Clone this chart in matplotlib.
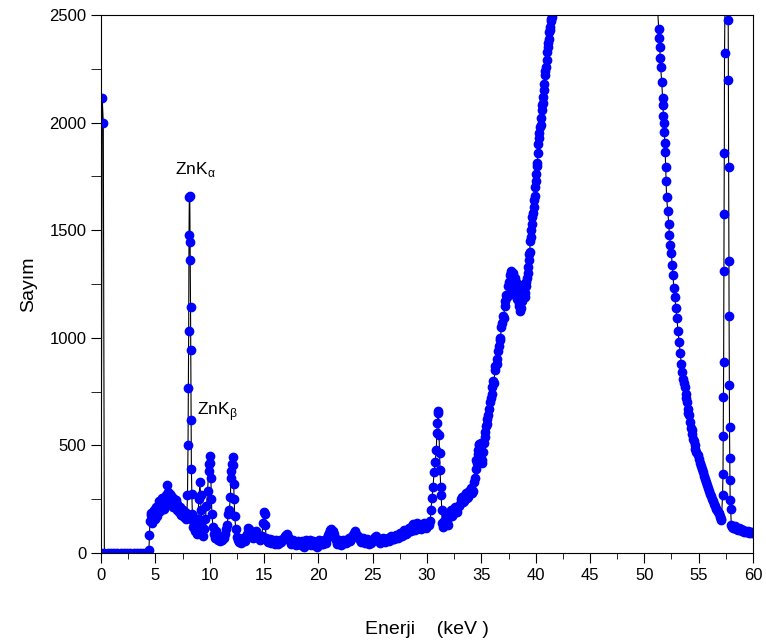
import matplotlib
matplotlib.use('Agg')
from matplotlib import pyplot as plt
from matplotlib.ticker import MultipleLocator

plt.rcParams['font.family'] = ['Liberation Sans', 'DejaVu Sans']

# spectrum, split in pieces (energy keV, counts)
start_e = [0.0, 0.1, 0.2, 0.3, 0.6, 0.9, 1.2, 1.5, 1.8, 2.1, 2.4, 2.7, 3.0, 3.3, 3.6, 3.9, 4.2]
start_c = [0, 2115, 2000, 0, 0, 0, 0, 0, 0, 0, 0, 0, 0, 0, 0, 0, 0]

hump_e = [4.4, 4.45, 4.5, 4.55, 4.6, 4.65, 4.7, 4.75, 4.8, 4.85, 4.9, 4.95, 5.0, 5.05, 5.1, 5.15,
          5.2, 5.25, 5.3, 5.35, 5.4, 5.45, 5.5, 5.55, 5.6, 5.65, 5.7, 5.75, 5.8, 5.85, 5.9, 5.95,
          6.0, 6.05, 6.1, 6.15, 6.2, 6.25, 6.3, 6.35, 6.4, 6.45, 6.5, 6.55, 6.6, 6.65, 6.7, 6.75,
          6.8, 6.85, 6.9, 6.95, 7.0, 7.05, 7.1, 7.15, 7.2, 7.25, 7.3, 7.35, 7.4, 7.45, 7.5, 7.55,
          7.6, 7.65, 7.7, 7.75, 7.8, 7.85, 7.9]
hump_c = [15, 84, 150, 175, 185, 140, 160, 180, 190, 200, 175, 160, 200, 215, 185, 170,
          215, 190, 200, 240, 225, 195, 210, 220, 235, 255, 220, 205, 250, 235, 230, 250,
          270, 240, 315, 285, 255, 230, 240, 275, 265, 225, 245, 260, 230, 215, 250, 235,
          225, 245, 215, 200, 230, 215, 205, 190, 200, 215, 190, 175, 200, 185, 180, 200,
          175, 165, 190, 170, 160, 185, 180]

zn_e = [7.95, 8.0, 8.03, 8.06, 8.09, 8.12, 8.16, 8.19, 8.21, 8.23, 8.25, 8.28, 8.31, 8.35, 8.4,
        8.45, 8.5, 8.6, 8.7, 8.8, 8.9, 9.0, 9.1, 9.15, 9.2, 9.3, 9.4, 9.5, 9.6, 9.7, 9.8, 9.9,
        9.95, 10.0, 10.05, 10.1, 10.15, 10.2, 10.3, 10.4, 10.5, 10.6, 10.7, 10.8, 10.9, 11.0,
        11.1, 11.2, 11.3, 11.4, 11.5, 11.6, 11.7, 11.8, 11.9, 11.95, 12.0, 12.05, 12.1, 12.15,
        12.2, 12.25, 12.3, 12.4]
zn_c = [270, 500, 766, 1030, 1480, 1653, 1660, 1446, 1362, 1143, 944, 618, 390, 275, 180,
        120, 150, 100, 130, 90, 160, 250, 330, 270, 200, 120, 80, 110, 160, 220, 290, 380,
        415, 450, 420, 350, 250, 180, 120, 90, 70, 100, 75, 60, 55, 70,
        60, 75, 70, 90, 110, 130, 180, 200, 260, 350, 380, 415, 445, 410,
        320, 250, 170, 110]

base_e = [12.5, 12.6, 12.7, 12.8, 12.9, 13.0, 13.1, 13.2, 13.3, 13.4, 13.5, 13.6, 13.7, 13.8,
          13.9, 14.0, 14.1, 14.2, 14.3, 14.4, 14.5, 14.6, 14.7, 14.8, 14.9, 15.0, 15.05, 15.1,
          15.2, 15.3, 15.4, 15.5, 15.6, 15.7, 15.8, 15.9, 16.0, 16.1, 16.2, 16.3, 16.4, 16.5,
          16.6, 16.7, 16.8, 16.9, 17.0, 17.1, 17.2, 17.3, 17.4, 17.5, 17.6, 17.7, 17.8, 17.9,
          18.0, 18.1, 18.2, 18.3, 18.4, 18.5, 18.6, 18.7, 18.8, 18.9, 19.0, 19.1, 19.2, 19.3,
          19.4, 19.5, 19.6, 19.7, 19.8, 19.9, 20.0, 20.1, 20.2, 20.3, 20.4, 20.5, 20.6, 20.7,
          20.8, 20.9, 21.0, 21.1, 21.2, 21.3, 21.4, 21.5, 21.6, 21.7, 21.8, 21.9, 22.0, 22.1,
          22.2, 22.3, 22.4, 22.5, 22.6, 22.7, 22.8, 22.9, 23.0, 23.1, 23.2, 23.3, 23.4, 23.5,
          23.6, 23.7, 23.8, 23.9, 24.0, 24.1, 24.2, 24.3, 24.4, 24.5, 24.6, 24.7, 24.8, 24.9,
          25.0, 25.1, 25.2, 25.3, 25.4, 25.5, 25.6, 25.7, 25.8, 25.9, 26.0, 26.1, 26.2, 26.3,
          26.4, 26.5, 26.6, 26.7, 26.8, 26.9, 27.0, 27.1, 27.2, 27.3, 27.4, 27.5, 27.6, 27.7,
          27.8, 27.9, 28.0, 28.1, 28.2, 28.3, 28.4, 28.5, 28.6, 28.7, 28.8, 28.9, 29.0, 29.1,
          29.2, 29.3, 29.4, 29.5, 29.6, 29.7, 29.8, 29.9, 30.0, 30.1, 30.2, 30.3]
base_c = [75, 60, 50, 65, 45, 60, 70, 55, 75, 90, 115, 110, 95, 85,
          75, 70, 80, 95, 100, 85, 70, 60, 65, 80, 140, 190, 180, 130,
          70, 60, 50, 65, 45, 55, 60, 45, 40, 60, 55, 40, 45, 60,
          50, 65, 70, 80, 85, 90, 75, 65, 55, 40, 45, 60, 50, 35,
          40, 55, 50, 40, 35, 55, 45, 30, 55, 60, 40, 50, 60, 35,
          45, 55, 35, 40, 50, 30, 45, 60, 55, 40, 40, 60, 55, 45,
          70, 85, 95, 105, 110, 100, 90, 70, 60, 40, 45, 60, 55, 35,
          40, 60, 55, 45, 50, 65, 70, 55, 65, 80, 85, 95, 100, 90,
          80, 70, 60, 50, 65, 70, 55, 45, 50, 65, 60, 40, 45, 55,
          60, 70, 75, 80, 70, 60, 55, 45, 60, 70, 65, 50, 55, 65,
          70, 55, 60, 80, 75, 65, 65, 85, 80, 70, 75, 95, 90, 80,
          85, 105, 100, 90, 95, 115, 110, 100, 125, 135, 115, 105, 135, 140,
          125, 115, 110, 125, 120, 140, 130, 115, 125, 140, 130, 150]

pb_e = [30.35, 30.45, 30.55, 30.65, 30.75, 30.85, 30.9, 30.95, 31.0, 31.05, 31.1, 31.15,
        31.2, 31.25, 31.3, 31.35]
pb_c = [200, 254, 305, 378, 424, 479, 556, 602, 649, 660, 548, 463,
        386, 308, 270, 200]

rise_e = [31.4, 31.5, 31.6, 31.7, 31.8, 31.9, 32.0, 32.1, 32.2, 32.3, 32.4, 32.5, 32.6, 32.7,
          32.8, 32.9, 33.0, 33.1, 33.2, 33.3, 33.4, 33.5, 33.6, 33.7, 33.8, 33.9, 34.0, 34.1,
          34.2, 34.3, 34.4, 34.5, 34.55, 34.6, 34.65, 34.7, 34.75, 34.8, 34.85, 34.9, 34.95,
          35.0, 35.05, 35.1, 35.15, 35.2, 35.3, 35.35, 35.4, 35.5, 35.55, 35.65, 35.7, 35.8,
          35.85, 35.95, 36.0, 36.1, 36.15, 36.25, 36.3, 36.4, 36.45, 36.55, 36.6, 36.7, 36.75,
          36.85, 36.9, 37.0, 37.05, 37.15, 37.2, 37.3, 37.35, 37.45, 37.5, 37.6, 37.65, 37.7,
          37.75, 37.8, 37.85, 37.9, 37.95, 38.0, 38.05, 38.1, 38.15, 38.2, 38.25, 38.3, 38.35,
          38.4, 38.45, 38.5, 38.55, 38.6, 38.65, 38.7, 38.75, 38.8, 38.85, 38.9, 38.95, 39.0,
          39.05, 39.1, 39.15, 39.2, 39.25, 39.3, 39.35, 39.4, 39.45, 39.5, 39.55, 39.6, 39.65,
          39.7, 39.75, 39.8, 39.85, 39.9, 39.95, 40.0, 40.05, 40.1, 40.15, 40.2, 40.25, 40.3,
          40.35, 40.4, 40.45, 40.5, 40.55, 40.6, 40.65, 40.7, 40.75, 40.8, 40.85, 40.9, 40.95,
          41.0, 41.05, 41.1, 41.15, 41.2, 41.25, 41.3, 41.35, 41.4, 41.45, 41.5]
rise_c = [138, 120, 150, 175, 140, 130, 165, 185, 200, 170, 180, 205, 215, 195,
          190, 220, 230, 250, 260, 235, 240, 270, 280, 255, 260, 290, 300, 280,
          290, 330, 350, 390, 430, 420, 480, 460, 505, 500, 440, 450, 510,
          480, 430, 420, 470, 510, 540, 560, 590, 600, 625, 640, 670, 700,
          720, 740, 770, 800, 790, 850, 870, 880, 900, 940, 960, 990, 1000,
          1050, 1070, 1100, 1090, 1150, 1170, 1200, 1190, 1240, 1260, 1290, 1250, 1310,
          1300, 1270, 1220, 1300, 1260, 1230, 1280, 1200, 1240, 1260, 1210, 1180, 1230,
          1220, 1160, 1150, 1190, 1125, 1140, 1170, 1200, 1210, 1230, 1250, 1220, 1190,
          1210, 1240, 1260, 1280, 1300, 1330, 1360, 1390, 1400, 1450, 1470, 1500, 1530,
          1560, 1580, 1610, 1640, 1660, 1700, 1730, 1760, 1800, 1810, 1860, 1900, 1930,
          1950, 1980, 1990, 2020, 2060, 2080, 2090, 2120, 2150, 2180, 2220, 2240, 2260,
          2290, 2330, 2350, 2370, 2390, 2420, 2430, 2445, 2470, 2480, 2490]

# main peak top is off the chart in the reference
top_e = [41.7, 42.5, 46.5, 50.5, 51.2]
top_c = [2600, 3500, 6000, 3500, 2550]

fall_e = [51.32, 51.38, 51.42, 51.47, 51.5, 51.6, 51.68, 51.72, 51.75, 51.8, 51.85, 51.88,
          51.92, 51.96, 52.0, 52.05, 52.15, 52.25, 52.3, 52.4, 52.5, 52.55, 52.65, 52.7,
          52.8, 52.9, 53.0, 53.1, 53.2, 53.3, 53.4, 53.5, 53.6, 53.65, 53.7, 53.8, 53.85,
          53.9, 54.0, 54.05, 54.1, 54.2, 54.3, 54.35, 54.4, 54.5, 54.55, 54.65, 54.7, 54.8,
          54.9, 55.0, 55.1, 55.2, 55.3, 55.4, 55.5, 55.6, 55.7, 55.8, 55.85, 55.95, 56.0,
          56.1, 56.2, 56.3, 56.4, 56.5, 56.6, 56.7, 56.8, 56.85, 56.95, 57.0, 57.05, 57.1]
fall_c = [2436, 2395, 2352, 2301, 2258, 2187, 2116, 2083, 2032, 1998, 1956, 1906,
          1864, 1796, 1729, 1653, 1590, 1530, 1480, 1430, 1392, 1340, 1290, 1230,
          1190, 1140, 1090, 1030, 980, 930, 880, 840, 810, 790, 770, 740, 720,
          700, 670, 650, 640, 610, 580, 570, 555, 530, 520, 500, 485, 470,
          455, 435, 420, 405, 390, 375, 360, 345, 330, 315, 300, 290, 275,
          265, 250, 240, 230, 220, 205, 200, 190, 185, 170, 165, 160, 155]

end_e = [57.2, 57.24, 57.26, 57.28, 57.3, 57.32, 57.34, 57.36, 57.38, 57.55, 57.72, 57.74,
         57.76, 57.78, 57.8, 57.82, 57.84, 57.86, 57.88, 57.9, 57.95, 58.0, 58.1, 58.2, 58.3,
         58.4, 58.5, 58.6, 58.7, 58.8, 58.9, 59.0, 59.1, 59.2, 59.3, 59.4, 59.5, 59.6, 59.7,
         59.8, 59.9, 60.0]
end_c = [270, 365, 542, 727, 887, 1311, 1577, 1860, 2323, 3200, 2475, 2200,
         1796, 1359, 1103, 781, 584, 441, 340, 247, 205, 130, 120, 115, 125,
         110, 118, 108, 115, 105, 112, 100, 108, 98, 104, 96, 100, 94, 98,
         92, 96, 95]

energy = start_e + hump_e + zn_e + base_e + pb_e + rise_e + top_e + fall_e + end_e
counts = start_c + hump_c + zn_c + base_c + pb_c + rise_c + top_c + fall_c + end_c

labels = ['ZnK$_{\\mathregular{α}}$', 'ZnK$_{\\mathregular{β}}$']
label_x = [6.8, 8.8]
label_y = [1760, 640]

fig = plt.figure(figsize=(7.66, 6.44), dpi=100)
ax = fig.add_axes([0.132, 0.1413, 0.851, 0.8354])

ax.plot(energy, counts, '-', color='black', lw=0.8, marker='o', ms=6,
        mfc='#0000ff', mec='#0000ff')

for txt, lx, ly in zip(labels, label_x, label_y):
    ax.text(lx, ly, txt, fontsize=12.5)

ax.set_xlim(0, 60)
ax.set_ylim(0, 2500)
ax.xaxis.set_major_locator(MultipleLocator(5))
ax.xaxis.set_minor_locator(MultipleLocator(2.5))
ax.yaxis.set_major_locator(MultipleLocator(500))
ax.yaxis.set_minor_locator(MultipleLocator(250))
ax.tick_params(which='major', direction='out', length=7, labelsize=12, top=False, right=False)
ax.tick_params(which='minor', direction='out', length=4, top=False, right=False)
ax.tick_params(axis='y', which='minor', length=7)

ax.set_xlabel('Enerji    (keV )', fontsize=14, labelpad=28)
ax.set_ylabel('Sayım', fontsize=14, labelpad=9)

plt.savefig('out.png', dpi=100)
